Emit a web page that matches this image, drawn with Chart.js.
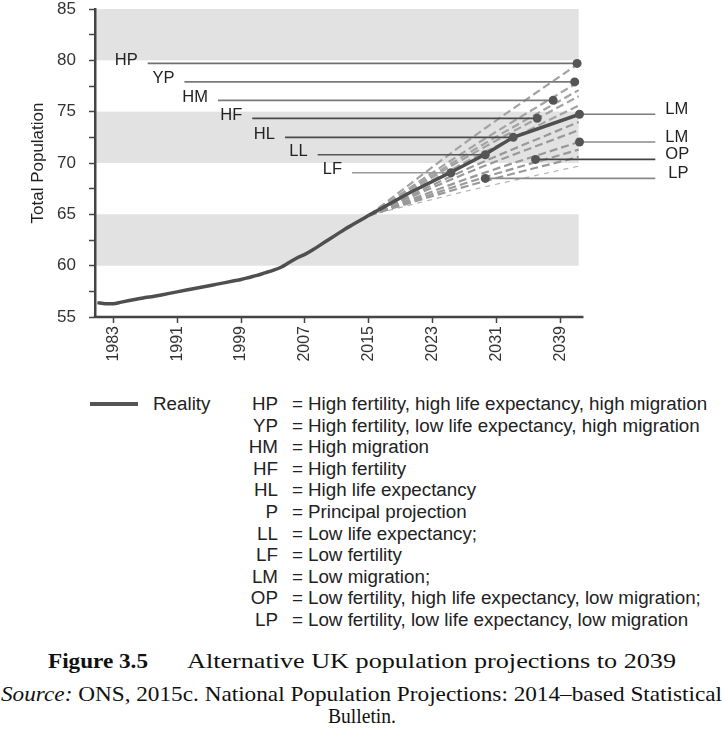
<!DOCTYPE html>
<html>
<head>
<meta charset="utf-8">
<script src="https://cdn.jsdelivr.net/npm/chart.js@4.4.1/dist/chart.umd.min.js"></script>
<style>
  html, body { margin: 0; padding: 0; background: #fff; }
  body { width: 723px; height: 729px; position: relative; overflow: hidden;
         font-family: 'Liberation Sans', Arial, sans-serif; color: #222; }
  #chart { position: absolute; left: 0; top: 0; }
  .key { position: absolute; left: 0; top: 393px; font-size: 18.8px; line-height: 21.6px; white-space: nowrap; }
  .key .code { display: inline-block; width: 278px; text-align: right; }
  .key .eq { margin-left: 14px; margin-right: 5px; }
  .reality-line { position: absolute; left: 90px; top: 402px; width: 48px; height: 4px; background: #555; }
  .reality { position: absolute; left: 153px; top: 393px; font-size: 18.8px; line-height: 21.6px; }
  .cap { position: absolute; font-family: 'Liberation Serif', 'Times New Roman', serif; line-height: 1;
         white-space: nowrap; display: inline-block; transform-origin: left center; color: #111; }
</style>
</head>
<body>
<canvas id="chart" width="723" height="380" style="width:723px;height:380px"></canvas>
<div class="reality-line"></div>
<div class="reality">Reality</div>
<div class="key" id="key"></div>
<span class="cap" data-w="100" style="left:48px;top:650px;font-size:22px;font-weight:bold">Figure 3.5</span>
<span class="cap" data-w="489" style="left:187px;top:650px;font-size:22px">Alternative UK population projections to 2039</span>
<span class="cap" data-w="721" style="left:1px;top:684px;font-size:21px"><i>Source:</i> ONS, 2015c. National Population Projections: 2014–based Statistical</span>
<span class="cap" data-w="68" style="left:328px;top:706px;font-size:21px">Bulletin.</span>
<script>
// observed population, millions
const years = [1981, 1982, 1983, 1984, 1985, 1986, 1987, 1988, 1989, 1990,
  1991, 1992, 1993, 1994, 1995, 1996, 1997, 1998, 1999, 2000,
  2001, 2002, 2003, 2004, 2005, 2006, 2007, 2008, 2009, 2010,
  2011, 2012, 2013, 2014, 2015]
const reality = [56.4, 56.3, 56.3, 56.45, 56.6, 56.75, 56.9, 57.0, 57.15, 57.3,
  57.45, 57.6, 57.75, 57.9, 58.05, 58.2, 58.35, 58.5, 58.65, 58.85,
  59.05, 59.3, 59.55, 59.85, 60.3, 60.75, 61.1, 61.55, 62.05, 62.55,
  63.05, 63.55, 64.0, 64.45, 64.9]

// principal projection (solid)
const principalYears = [2015, 2020, 2025.3, 2029.6, 2033.1, 2041.4]
const principal = [64.9, 67.05, 69.1, 70.85, 72.5, 74.75]

// variant projections (dashed fan)
const fanYears = [2015, 2028, 2041.3]
const fanStart = 64.9
const fanMid = [72.5, 71.6, 71.2, 70.9, 70.45, 69.65, 69.25, 68.65, 68.25, 67.9, 67.4]
const fanEnd = [79.7, 77.9, 77.1, 76.5, 75.6, 74.0, 73.2, 72.05, 71.3, 70.6, 69.7]

// labelled points, left side labels
const leftCodes = ['HP', 'YP', 'HM', 'HF', 'HL', 'LL', 'LF']
const leftFrom = [1987.3, 1991.9, 1996.1, 2000.4, 2004.5, 2008.6, 2012.9]
const leftDotYear = [2041.1, 2040.8, 2038.1, 2036.1, 2033.1, 2029.6, 2025.3]
const leftDotValue = [79.7, 77.9, 76.1, 74.35, 72.5, 70.8, 69.05]

// labelled points, right side labels
const rightCodes = ['LM', 'LM', 'OP', 'LP']
const rightDotYear = [2041.4, 2041.4, 2035.9, 2029.6]
const rightDotValue = [74.75, 72.05, 70.35, 68.5]
const rightTo = 2050.9

const xTicks = [1983, 1991, 1999, 2007, 2015, 2023, 2031, 2039]
const bands = [[60, 65], [70, 75], [80, 85]]
const bandEnd = 2041.3
const axisEnd = 2041.9

const keyCodes = ['HP', 'YP', 'HM', 'HF', 'HL', 'P', 'LL', 'LF', 'LM', 'OP', 'LP']
const keyText = [
  'High fertility, high life expectancy, high migration',
  'High fertility, low life expectancy, high migration',
  'High migration',
  'High fertility',
  'High life expectancy',
  'Principal projection',
  'Low life expectancy;',
  'Low fertility',
  'Low migration;',
  'Low fertility, high life expectancy, low migration;',
  'Low fertility, low life expectancy, low migration'
]

const leftColors = ['#707070', '#7a7a7a', '#7a7a7a', '#4a4a4a', '#4a4a4a', '#555555', '#9a9a9a']
const rightColors = ['#7a7a7a', '#8a8a8a', '#444444', '#8a8a8a']

const key = document.getElementById('key')
keyCodes.forEach((c, i) => {
  const row = document.createElement('div')
  row.innerHTML = '<span class="code">' + c + '</span><span class="eq">=</span><span>' + keyText[i] + '</span>'
  key.appendChild(row)
})

document.querySelectorAll('[data-w]').forEach(el => {
  const w = el.getBoundingClientRect().width
  el.style.transform = 'scaleX(' + (+el.dataset.w / w) + ')'
})

const datasets = []

// dots on top
const dots = []
leftDotYear.forEach((x, i) => dots.push({ x, y: leftDotValue[i] }))
rightDotYear.forEach((x, i) => dots.push({ x, y: rightDotValue[i] }))
datasets.push({
  data: dots, showLine: false, pointRadius: 4.5, pointBackgroundColor: '#555',
  pointBorderWidth: 0, pointHoverRadius: 4.5
})

datasets.push({
  data: years.map((x, i) => ({ x, y: reality[i] })),
  borderColor: '#4f4f4f', borderWidth: 3.5, pointRadius: 0, cubicInterpolationMode: 'monotone'
})
datasets.push({
  data: principalYears.map((x, i) => ({ x, y: principal[i] })),
  borderColor: '#4f4f4f', borderWidth: 3.5, pointRadius: 0, tension: 0
})

leftCodes.forEach((c, i) => {
  datasets.push({
    data: [{ x: leftFrom[i], y: leftDotValue[i] }, { x: leftDotYear[i], y: leftDotValue[i] }],
    borderColor: leftColors[i], borderWidth: 1.6, pointRadius: 0
  })
})
rightCodes.forEach((c, i) => {
  datasets.push({
    data: [{ x: rightDotYear[i], y: rightDotValue[i] }, { x: rightTo, y: rightDotValue[i] }],
    borderColor: rightColors[i], borderWidth: 1.6, pointRadius: 0
  })
})

fanEnd.forEach((e, i) => {
  const last = i === fanEnd.length - 1
  datasets.push({
    data: [{ x: fanYears[0], y: fanStart }, { x: fanYears[1], y: fanMid[i] }, { x: fanYears[2], y: e }],
    borderColor: last ? '#b3b3b3' : (i < 5 ? '#a3a3a3' : '#999999'),
    borderWidth: last ? 1.2 : 2.2,
    borderDash: last ? [5, 5] : [8, 4],
    pointRadius: 0,
    cubicInterpolationMode: 'monotone'
  })
})

// grey bands, x axis line and the scenario labels
const decor = {
  id: 'decor',
  beforeDraw(chart) {
    const { ctx, chartArea, scales: { x, y } } = chart
    ctx.save()
    ctx.fillStyle = '#e2e2e2'
    bands.forEach(([lo, hi]) => {
      const t = y.getPixelForValue(hi)
      const b = y.getPixelForValue(lo)
      ctx.fillRect(chartArea.left, t, x.getPixelForValue(bandEnd) - chartArea.left, b - t)
    })
    ctx.restore()
  },
  beforeDatasetsDraw(chart) {
    const { ctx, chartArea, scales: { x } } = chart
    ctx.save()
    ctx.strokeStyle = '#444'
    ctx.lineWidth = 2.5
    ctx.beginPath()
    ctx.moveTo(chartArea.left - 1.25, chartArea.bottom)
    ctx.lineTo(x.getPixelForValue(axisEnd), chartArea.bottom)
    ctx.stroke()
    ctx.restore()
  },
  afterDatasetsDraw(chart) {
    const { ctx, scales: { x, y } } = chart
    ctx.save()
    ctx.font = '16.5px "Liberation Sans", Arial, sans-serif'
    ctx.fillStyle = '#222'
    ctx.textBaseline = 'alphabetic'
    ctx.textAlign = 'right'
    leftCodes.forEach((c, i) => {
      ctx.fillText(c, x.getPixelForValue(leftFrom[i]) - 10, y.getPixelForValue(leftDotValue[i]) + 1.5)
    })
    ctx.textAlign = 'left'
    rightCodes.forEach((c, i) => {
      ctx.fillText(c, x.getPixelForValue(rightTo) + (c === 'LP' ? 13 : 10), y.getPixelForValue(rightDotValue[i]))
    })
    ctx.restore()
  }
}

new Chart(document.getElementById('chart'), {
  type: 'line',
  data: { datasets },
  plugins: [decor],
  options: {
    responsive: false,
    animation: false,
    events: [],
    layout: { padding: { top: 9, right: 23, bottom: 0, left: 0 } },
    plugins: { legend: { display: false }, tooltip: { enabled: false } },
    scales: {
      x: {
        type: 'linear',
        min: 1980.7,
        max: 2056.5,
        afterBuildTicks: (s) => { s.ticks = xTicks.map(v => ({ value: v })) },
        afterFit: (s) => { s.height = 63; s.paddingLeft = 0; s.paddingRight = 0 },
        border: { display: false },
        grid: { drawOnChartArea: false, tickLength: 6, tickColor: '#444', tickWidth: 1.5 },
        ticks: {
          autoSkip: false, minRotation: 90, maxRotation: 90, padding: 3, color: '#333',
          font: { family: '"Liberation Sans", Arial, sans-serif', size: 16 },
          callback: (v) => String(v)
        }
      },
      y: {
        min: 55,
        max: 85,
        afterFit: (s) => { s.width = 95; s.paddingTop = 0; s.paddingBottom = 0 },
        border: { display: true, color: '#444', width: 2.5 },
        grid: { drawOnChartArea: false, tickLength: 6, tickColor: '#444', tickWidth: 1.5 },
        ticks: {
          stepSize: 2.5, padding: 13, color: '#333',
          font: { family: '"Liberation Sans", Arial, sans-serif', size: 17 },
          callback: (v) => (v % 5 === 0 ? String(v) : '')
        },
        title: {
          display: true, text: 'Total Population', color: '#222',
          font: { family: '"Liberation Sans", Arial, sans-serif', size: 17 },
          padding: { top: 28, bottom: 0 }
        }
      }
    }
  }
})
</script>
</body>
</html>
